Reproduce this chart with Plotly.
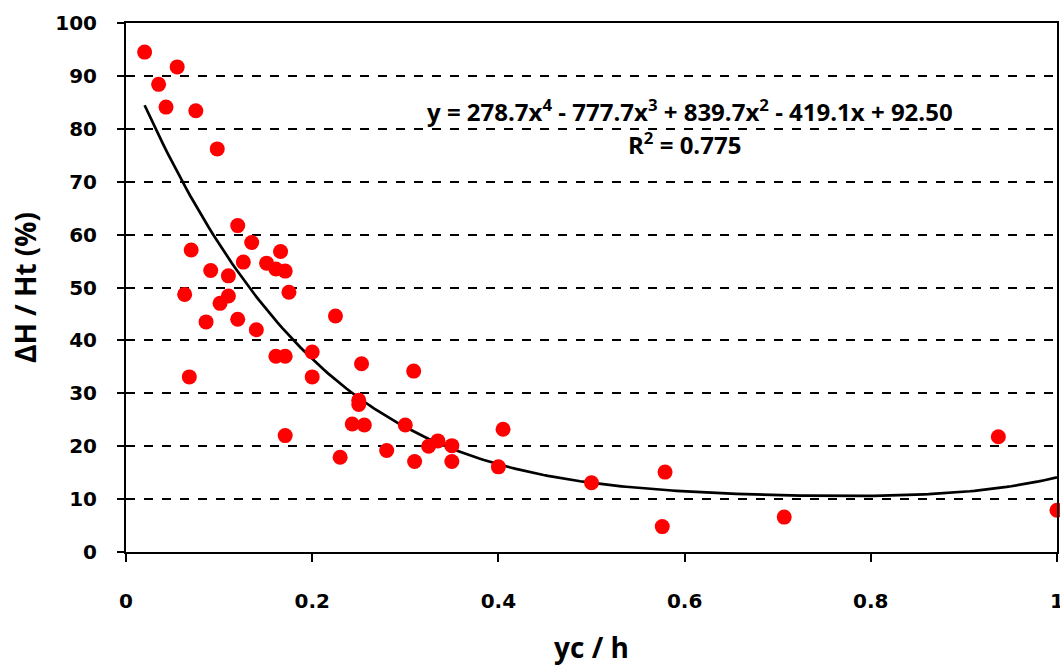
import numpy as np
import plotly.graph_objects as go

# Measured data (yc/h, ΔH/Ht %)
x_vals = [0.020, 0.055, 0.035, 0.043, 0.075, 0.098,
          0.120, 0.070, 0.135, 0.166, 0.126, 0.151, 0.161, 0.171, 0.091, 0.110,
          0.175, 0.063, 0.110, 0.101, 0.086, 0.120, 0.140, 0.068,
          0.225, 0.161, 0.171, 0.200, 0.200, 0.253, 0.250, 0.250, 0.243, 0.256,
          0.171, 0.230,
          0.309, 0.300, 0.280, 0.310, 0.325, 0.335, 0.350, 0.350, 0.405, 0.400,
          0.500, 0.579, 0.576, 0.707, 0.937, 1.000]
y_vals = [94.5, 91.7, 88.4, 84.1, 83.4, 76.2,
          61.7, 57.1, 58.5, 56.8, 54.8, 54.6, 53.5, 53.1, 53.2, 52.2,
          49.1, 48.7, 48.4, 47.0, 43.5, 44.0, 42.0, 33.1,
          44.6, 37.0, 37.0, 37.8, 33.1, 35.6, 28.7, 27.9, 24.2, 24.0,
          22.0, 17.9,
          34.2, 24.0, 19.2, 17.1, 20.0, 21.0, 20.1, 17.1, 23.2, 16.1,
          13.1, 15.1, 4.8, 6.6, 21.8, 7.9]

# Trendline coefficients as displayed (highest order first)
trend_coefs = [278.7, -777.7, 839.7, -419.1, 92.50]
trend_range = [0.02, 1.0]
y_ticks = [0, 10, 20, 30, 40, 50, 60, 70, 80, 90, 100]
x_ticks = [0, 0.2, 0.4, 0.6, 0.8, 1.0]
x_tick_text = ["0", "0.2", "0.4", "0.6", "0.8", "1"]

xt = np.linspace(trend_range[0], trend_range[1], 200)
yt = np.polyval(trend_coefs, xt)

tick_font = dict(family="DejaVu Sans", size=20, color="black", weight="bold")
title_font = dict(family="Open Sans", size=28, color="black")

fig = go.Figure()
fig.add_trace(go.Scatter(x=xt, y=yt, mode="lines",
                         line=dict(color="black", width=2.7),
                         hoverinfo="skip", showlegend=False, cliponaxis=False))
fig.add_trace(go.Scatter(x=x_vals, y=y_vals, mode="markers",
                         marker=dict(color="#ff0000", size=15, line=dict(width=0)),
                         showlegend=False, cliponaxis=False))

fig.update_layout(
    width=1060, height=666,
    margin=dict(l=126, r=3, t=23, b=114, autoexpand=False),
    paper_bgcolor="white", plot_bgcolor="white",
    font=dict(family="DejaVu Sans", color="black"),
)
fig.update_xaxes(
    range=[0, 1], tickvals=x_ticks, ticktext=x_tick_text,
    showgrid=False, zeroline=False, automargin=False,
    showline=True, linecolor="black", linewidth=2, mirror=True,
    ticks="outside", ticklen=8, tickwidth=2, tickcolor="black",
    tickfont=tick_font, ticklabeloverflow="allow",
    ticklabelstandoff=22,
    title=dict(text="<b>yc / h</b>", font=title_font, standoff=26),
)
fig.update_yaxes(
    range=[0, 100], tickvals=y_ticks,
    showgrid=True, gridcolor="black", gridwidth=1.5, griddash="dash",
    zeroline=False, automargin=False,
    showline=True, linecolor="black", linewidth=2, mirror=True,
    ticks="outside", ticklen=7, tickwidth=1.5, tickcolor="black",
    tickfont=tick_font,
    ticklabelstandoff=16,
    title=dict(text="<b>ΔH / Ht (%)</b>", font=title_font, standoff=10),
)

fig.add_annotation(
    x=0.606, y=83.5, xref="x", yref="y", showarrow=False,
    text="<b>y = 278.7x<sup>4</sup> - 777.7x<sup>3</sup> + 839.7x<sup>2</sup> - 419.1x + 92.50</b>",
    font=dict(family="Open Sans", size=24, color="black"),
)
fig.add_annotation(
    x=0.6, y=77.2, xref="x", yref="y", showarrow=False,
    text="<b>R<sup>2</sup> = 0.775</b>",
    font=dict(family="Open Sans", size=24, color="black"),
)

fig.write_html("out.html", config={"displayModeBar": False},
               post_script="document.body.style.margin='0';document.body.style.overflow='hidden';")
